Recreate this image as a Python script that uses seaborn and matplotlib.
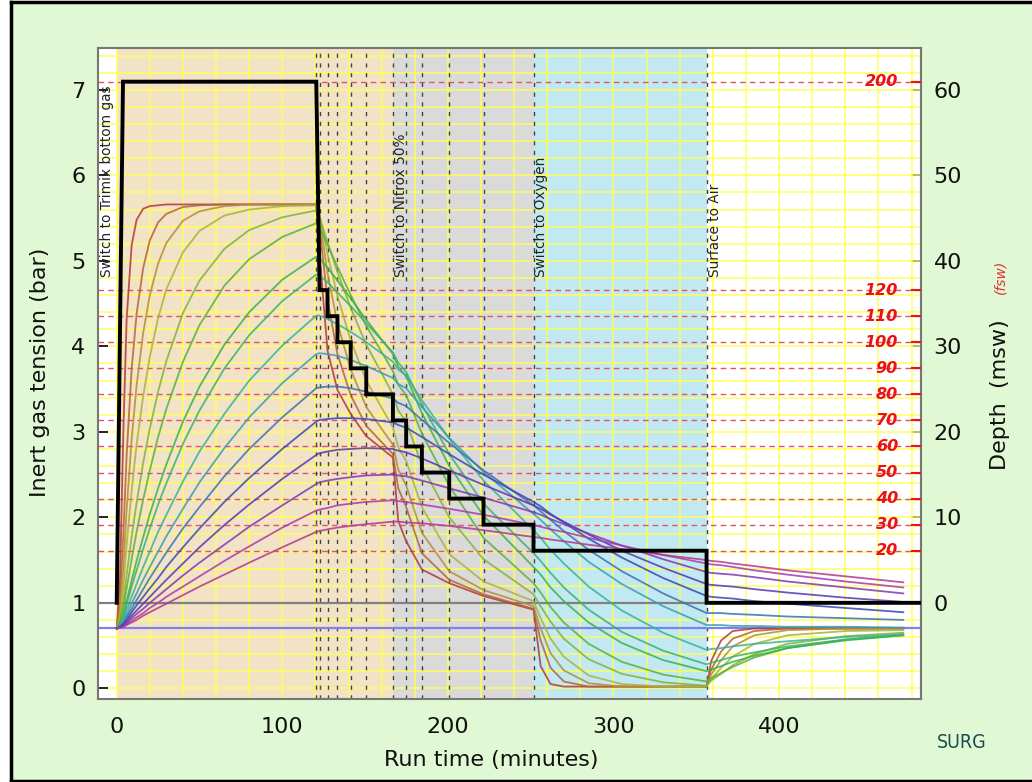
import colorsys
import numpy as np
import pandas as pd
import matplotlib
matplotlib.use("Agg")
import matplotlib.pyplot as plt
from matplotlib.patches import Rectangle
from matplotlib.lines import Line2D
import seaborn as sns

# ---------------- data ----------------
run_time = [0, 2, 4, 6, 9, 12, 16, 20, 25, 30, 40, 50, 65, 80, 100, 120.5,
            122.5, 127.3, 133.3, 141.3, 150.7, 166.8, 170, 174.8, 184.3, 200.8, 221.5, 251.7,
            256, 262, 270, 285, 305, 330, 356.2,
            359, 365, 372, 385, 405, 440, 475]

tissue_01 = [0.70, 1.30, 3.00, 4.32, 5.18, 5.48, 5.61, 5.64, 5.65, 5.66, 5.66, 5.66, 5.66, 5.66, 5.66, 5.66,
             5.08, 3.95, 3.49, 3.21, 2.95, 2.70, 1.96, 1.72, 1.39, 1.23, 1.08, 0.92,
             0.26, 0.05, 0.02, 0.02, 0.02, 0.02, 0.02,
             0.32, 0.56, 0.67, 0.70, 0.70, 0.70, 0.70]
tissue_02 = [0.70, 1.00, 1.80, 2.73, 3.73, 4.38, 4.92, 5.24, 5.45, 5.55, 5.63, 5.65, 5.66, 5.66, 5.66, 5.66,
             5.38, 4.55, 3.91, 3.43, 3.07, 2.74, 2.34, 2.12, 1.58, 1.27, 1.10, 0.93,
             0.56, 0.24, 0.08, 0.02, 0.02, 0.02, 0.02,
             0.22, 0.43, 0.58, 0.67, 0.70, 0.70, 0.70]
tissue_03 = [0.70, 0.90, 1.41, 2.09, 2.91, 3.54, 4.16, 4.60, 4.97, 5.21, 5.47, 5.58, 5.64, 5.66, 5.66, 5.66,
             5.48, 4.86, 4.27, 3.73, 3.29, 2.85, 2.56, 2.37, 1.82, 1.37, 1.15, 0.96,
             0.70, 0.41, 0.21, 0.06, 0.02, 0.02, 0.02,
             0.16, 0.33, 0.49, 0.62, 0.68, 0.70, 0.70]
tissue_04 = [0.70, 0.85, 1.19, 1.68, 2.31, 2.85, 3.42, 3.88, 4.33, 4.67, 5.10, 5.35, 5.53, 5.60, 5.64, 5.65,
             5.52, 5.08, 4.59, 4.07, 3.60, 3.05, 2.82, 2.66, 2.12, 1.57, 1.25, 1.02,
             0.82, 0.58, 0.37, 0.15, 0.05, 0.02, 0.02,
             0.11, 0.24, 0.37, 0.52, 0.62, 0.67, 0.68]
tissue_05 = [0.70, 0.80, 1.01, 1.33, 1.77, 2.17, 2.64, 3.04, 3.47, 3.83, 4.39, 4.77, 5.14, 5.36, 5.51, 5.59,
             5.51, 5.22, 4.87, 4.45, 4.02, 3.44, 3.25, 3.12, 2.61, 2.00, 1.51, 1.10,
             0.96, 0.78, 0.58, 0.34, 0.17, 0.07, 0.03,
             0.09, 0.17, 0.27, 0.40, 0.52, 0.61, 0.65]
tissue_06 = [0.70, 0.78, 0.93, 1.17, 1.51, 1.83, 2.21, 2.55, 2.94, 3.27, 3.82, 4.25, 4.71, 5.02, 5.28, 5.44,
             5.39, 5.19, 4.93, 4.60, 4.24, 3.71, 3.55, 3.43, 2.98, 2.37, 1.76, 1.23,
             1.12, 0.95, 0.77, 0.52, 0.31, 0.16, 0.08,
             0.12, 0.18, 0.25, 0.36, 0.47, 0.57, 0.63]
tissue_07 = [0.70, 0.76, 0.85, 1.02, 1.26, 1.49, 1.77, 2.04, 2.34, 2.62, 3.12, 3.53, 4.02, 4.40, 4.78, 5.05,
             5.03, 4.92, 4.77, 4.56, 4.31, 3.91, 3.76, 3.65, 3.22, 2.60, 2.02, 1.42,
             1.33, 1.18, 1.02, 0.77, 0.53, 0.33, 0.20,
             0.22, 0.26, 0.31, 0.38, 0.47, 0.56, 0.62]
tissue_08 = [0.70, 0.75, 0.83, 0.98, 1.19, 1.38, 1.63, 1.87, 2.15, 2.40, 2.86, 3.25, 3.74, 4.13, 4.53, 4.84,
             4.83, 4.75, 4.63, 4.47, 4.27, 3.93, 3.81, 3.70, 3.32, 2.74, 2.16, 1.58,
             1.49, 1.35, 1.18, 0.92, 0.66, 0.44, 0.28,
             0.30, 0.33, 0.37, 0.42, 0.49, 0.57, 0.62]
tissue_09 = [0.70, 0.74, 0.80, 0.91, 1.07, 1.22, 1.42, 1.60, 1.83, 2.03, 2.42, 2.77, 3.21, 3.60, 4.01, 4.36,
             4.36, 4.32, 4.26, 4.17, 4.05, 3.82, 3.73, 3.66, 3.37, 2.92, 2.43, 1.85,
             1.76, 1.62, 1.46, 1.19, 0.91, 0.65, 0.45,
             0.46, 0.47, 0.49, 0.52, 0.55, 0.60, 0.63]
tissue_10 = [0.70, 0.73, 0.78, 0.86, 0.99, 1.11, 1.27, 1.42, 1.60, 1.78, 2.10, 2.41, 2.81, 3.17, 3.57, 3.91,
             3.92, 3.91, 3.89, 3.84, 3.77, 3.63, 3.56, 3.51, 3.29, 2.93, 2.53, 2.04,
             1.97, 1.86, 1.72, 1.48, 1.22, 0.96, 0.74,
             0.74, 0.74, 0.73, 0.73, 0.72, 0.72, 0.71]
tissue_11 = [0.70, 0.72, 0.76, 0.83, 0.93, 1.03, 1.16, 1.29, 1.44, 1.59, 1.87, 2.12, 2.48, 2.80, 3.17, 3.51,
             3.52, 3.53, 3.53, 3.51, 3.47, 3.39, 3.34, 3.30, 3.14, 2.87, 2.55, 2.14,
             2.07, 1.97, 1.84, 1.62, 1.37, 1.11, 0.88,
             0.88, 0.88, 0.87, 0.86, 0.84, 0.82, 0.80]
tissue_12 = [0.70, 0.72, 0.75, 0.80, 0.89, 0.97, 1.07, 1.17, 1.29, 1.42, 1.65, 1.87, 2.18, 2.46, 2.80, 3.12,
             3.14, 3.15, 3.16, 3.16, 3.15, 3.11, 3.08, 3.05, 2.94, 2.74, 2.50, 2.18,
             2.13, 2.04, 1.94, 1.75, 1.53, 1.29, 1.08,
             1.07, 1.06, 1.05, 1.02, 0.99, 0.94, 0.89]
tissue_13 = [0.70, 0.71, 0.74, 0.78, 0.85, 0.91, 0.99, 1.07, 1.17, 1.27, 1.46, 1.65, 1.91, 2.15, 2.45, 2.73,
             2.75, 2.77, 2.79, 2.80, 2.81, 2.80, 2.78, 2.76, 2.69, 2.55, 2.38, 2.14,
             2.10, 2.03, 1.95, 1.80, 1.61, 1.41, 1.22,
             1.21, 1.20, 1.19, 1.16, 1.12, 1.06, 1.01]
tissue_14 = [0.70, 0.71, 0.73, 0.76, 0.82, 0.87, 0.93, 1.00, 1.08, 1.16, 1.32, 1.47, 1.68, 1.89, 2.14, 2.39,
             2.41, 2.43, 2.45, 2.47, 2.49, 2.50, 2.49, 2.48, 2.43, 2.34, 2.23, 2.06,
             2.03, 1.98, 1.92, 1.81, 1.67, 1.51, 1.36,
             1.35, 1.34, 1.33, 1.30, 1.25, 1.18, 1.11]
tissue_15 = [0.70, 0.71, 0.72, 0.75, 0.79, 0.83, 0.88, 0.94, 1.00, 1.07, 1.19, 1.31, 1.49, 1.66, 1.88, 2.08,
             2.09, 2.11, 2.14, 2.16, 2.18, 2.20, 2.19, 2.18, 2.15, 2.10, 2.03, 1.91,
             1.89, 1.86, 1.83, 1.76, 1.67, 1.56, 1.46,
             1.45, 1.44, 1.42, 1.38, 1.33, 1.25, 1.18]
tissue_16 = [0.70, 0.71, 0.72, 0.74, 0.77, 0.80, 0.85, 0.89, 0.94, 0.99, 1.09, 1.19, 1.33, 1.47, 1.65, 1.83,
             1.84, 1.86, 1.88, 1.90, 1.92, 1.95, 1.95, 1.94, 1.93, 1.90, 1.85, 1.77,
             1.76, 1.74, 1.72, 1.68, 1.63, 1.56, 1.50,
             1.49, 1.48, 1.46, 1.43, 1.38, 1.31, 1.24]

# dive profile
descent_end = 3.8
bottom_end = 120.5
bottom_fsw = 200
stop_start = [122.5, 127.3, 133.3, 141.3, 150.7, 166.8, 174.8, 184.3, 200.8, 221.5, 251.7, 356.2]
stop_fsw = [120, 110, 100, 90, 80, 70, 60, 50, 40, 30, 20, 0]
profile_end = 486

# events / gas switches
event_times = [120.5, 122.5, 127.3, 133.3, 141.3, 150.7, 166.8, 174.8, 184.3, 200.8, 221.5, 251.7, 356.2]
switch_times = [0, 166.8, 251.7, 356.2]
switch_labels = ["Switch to Trimix bottom gas", "Switch to Nitrox 50%", "Switch to Oxygen", "Surface to Air"]
phase_colors = ["#f2e2c6", "#dadada", "#c2e9f1"]

fsw_marks = [200, 120, 110, 100, 90, 80, 70, 60, 50, 40, 30, 20]
surface_bar = 1.0
air_inert_bar = 0.70

# ---------------- helpers ----------------
def fsw_to_bar(f):
    return 1.0 + f * 0.3048 / 10.0

tissues = [tissue_01, tissue_02, tissue_03, tissue_04, tissue_05, tissue_06, tissue_07, tissue_08,
           tissue_09, tissue_10, tissue_11, tissue_12, tissue_13, tissue_14, tissue_15, tissue_16]
rows = []
for i, vals in enumerate(tissues):
    for t, v in zip(run_time, vals):
        rows.append({"time": t, "tension": v, "compartment": f"C{i+1:02d}"})
df = pd.DataFrame(rows)

colors = [colorsys.hls_to_rgb(h, 0.46, 0.52) for h in np.linspace(0.0, 0.88, len(tissues))]

# profile polyline
pt = [0, descent_end, bottom_end]
pf = [0, bottom_fsw, bottom_fsw]
ends = stop_start[1:] + [profile_end]
for s, e, f in zip(stop_start, ends, stop_fsw):
    if s == stop_start[0]:
        pt += [s, e]
        pf += [f, f]
    else:
        pt += [s, s, e]
        pf += [pf[-1], f, f]
pbar = [fsw_to_bar(f) for f in pf]

# ---------------- figure ----------------
W, H = 1032, 782
fig = plt.figure(figsize=(W / 100, H / 100), dpi=100, facecolor="white")
fig.patches.append(Rectangle((10.5 / W, 1.5 / H), 1 - 10.5 / W, 1 - 3 / H, transform=fig.transFigure,
                             facecolor="#e1f8d4", edgecolor="none", zorder=-10))
# frame lines (left, top, bottom)
for xs, ys in [((10.5 / W, 10.5 / W), (1.5 / H, 1 - 1.5 / H)),
               ((10.5 / W, 1.0), (1 - 1.5 / H, 1 - 1.5 / H)),
               ((10.5 / W, 1.0), (1.5 / H, 1.5 / H))]:
    fig.lines.append(Line2D(xs, ys, transform=fig.transFigure, color="black", lw=2.5))

ax = fig.add_axes([98 / W, 1 - 699 / H, (921 - 98) / W, (699 - 48) / H])
ax.set_facecolor("white")
xlim = (-11.3, 485.7)
ylim = (-0.125, 7.49)

# phase backgrounds
for a, b, c in zip(switch_times[:-1], switch_times[1:], phase_colors):
    ax.axvspan(a, b, color=c, lw=0, zorder=0)

# yellow grid
for x in np.arange(0, 481, 20):
    ax.axvline(x, color="#ffff55", lw=1.2, alpha=0.85, zorder=1)
for y in np.arange(0, 7.5, 0.2):
    ax.axhline(y, color="#ffff55", lw=1.2, alpha=0.85, zorder=1)

# fsw dashed lines
for f in fsw_marks:
    ax.axhline(fsw_to_bar(f), color="#e05565", lw=1.0, dashes=(4, 3), zorder=2)
    ax.text(0.972, fsw_to_bar(f), str(f), transform=ax.get_yaxis_transform(), ha="right",
            va="center", color="#ee1111", fontsize=11.5, fontweight="bold", style="italic", zorder=6)

# event dashed verticals
for t in event_times:
    ax.axvline(t, color="#444444", lw=1.0, dashes=(3, 4), zorder=2)

ax.axhline(surface_bar, color="#808080", lw=1.6, zorder=2)
ax.axhline(air_inert_bar, color="#8080ee", lw=1.6, zorder=2)

sns.lineplot(data=df, x="time", y="tension", hue="compartment", palette=colors, sort=False,
             estimator=None, legend=False, lw=1.3, alpha=0.85, ax=ax, zorder=3)

ax.plot(pt, pbar, color="black", lw=2.8, zorder=5, solid_joinstyle="miter")

# switch labels
for t, lab in zip(switch_times, switch_labels):
    xt = t + 4.8 if t > 0 else -6.0
    ax.text(xt, 4.81, lab, rotation=90, ha="center", va="bottom", fontsize=9.8,
            color="#222222", zorder=6)

ax.set_xlim(*xlim)
ax.set_ylim(*ylim)
ax.set_xticks([0, 100, 200, 300, 400])
ax.set_yticks(range(0, 8))
ax.set_xlabel("")
ax.set_ylabel("")
ax.tick_params(axis="x", length=0, pad=13, labelsize=16, colors="#111111")
ax.tick_params(axis="y", direction="in", length=7, width=1.3, pad=9, labelsize=16,
               colors="#111111")
for sp in ax.spines.values():
    sp.set_color("#777777")
    sp.set_linewidth(1.5)

sec = ax.secondary_yaxis("right", functions=(lambda p: (p - 1) * 10, lambda m: m / 10 + 1))
sec.set_yticks(range(0, 61, 10))
sec.tick_params(direction="in", length=7, width=1.3, pad=9, labelsize=16, colors="#111111")
sec.spines["right"].set_color("#777777")
sec.spines["right"].set_linewidth(1.5)

ax3 = ax.twinx()
ax3.set_ylim(*ylim)
ax3.set_yticks([fsw_to_bar(f) for f in fsw_marks])
ax3.set_yticklabels([])
ax3.tick_params(axis="y", direction="in", length=7, width=1.5, colors="#ee1111")
for sp in ax3.spines.values():
    sp.set_visible(False)

fig.text(40 / W, 1 - 372 / H, "Inert gas tension (bar)", rotation=90, ha="center", va="center",
         fontsize=16, color="#111111")
fig.text(491 / W, 1 - 760 / H, "Run time (minutes)", ha="center", va="center", fontsize=16,
         color="#111111")
fig.text(1000 / W, 1 - 395 / H, "Depth  (msw)", rotation=90, ha="center", va="center",
         fontsize=16, color="#111111")
fig.text(1000 / W, 1 - 277 / H, "(fsw)", rotation=90, ha="center", va="center",
         fontsize=10, style="italic", color="#e03030")
fig.text(962 / W, 1 - 742 / H, "SURG", ha="center", va="center", fontsize=14,
         color="#1d4d4f", fontstretch="condensed")

fig.savefig("out.png", dpi=100, facecolor=fig.get_facecolor())
